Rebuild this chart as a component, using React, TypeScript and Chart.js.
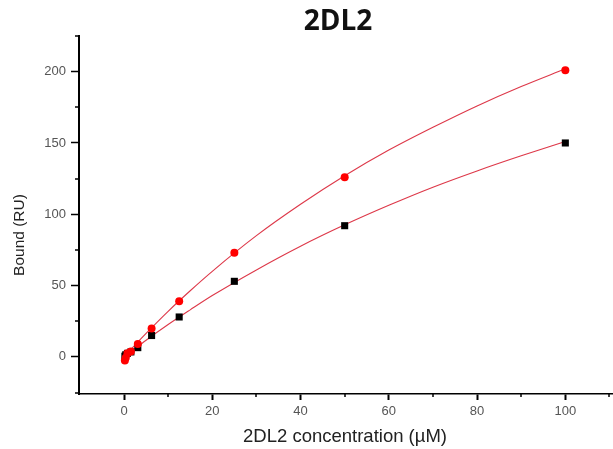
import React, { useEffect, useRef } from "react";
import { Chart, registerables } from "chart.js";

Chart.register(...registerables);

// Measured binding (RU) at each analyte concentration (µM)
const concentration = [0.195, 0.39, 0.78, 1.5625, 3.125, 6.25, 12.5, 25, 50, 100];
const boundRed = [-2.5, -0.5, 2.5, 3.8, 9, 20, 39, 73, 126, 201];
const boundBlack = [0.5, 1.5, 2.5, 3.5, 6.5, 15, 28, 53, 92, 150];

// Fitted saturation curves
const fitX = [0, 2, 5, 10, 15, 20, 30, 40, 50, 60, 70, 80, 90, 100];
const fitRed = [0, 6.7, 16.5, 32, 46.4, 60, 85, 107, 127, 145, 161, 176, 189.6, 202];
const fitBlack = [0, 4.7, 11.7, 22.7, 33, 43, 61, 77.6, 92.6, 106.3, 119, 130.4, 141, 151];

// Axis ticks
const xMajorTicks = [0, 20, 40, 60, 80, 100];
const xMinorTicks = [10, 30, 50, 70, 90, 110];
const yMajorTicks = [0, 50, 100, 150, 200];
const yMinorTicks = [-25, 25, 75, 125, 175, 225];

const chartTitle = "2DL2";
const xTitle = "2DL2 concentration (\u00B5M)";
const yTitle = "Bound (RU)";

const SANS = "'Liberation Sans', Arial, sans-serif";

const decorations = {
  id: "decorations",
  afterDraw(chart: any) {
    const { ctx, chartArea, scales } = chart;
    const xs = scales.x;
    const ys = scales.y;
    ctx.save();
    ctx.strokeStyle = "#000";
    ctx.lineWidth = 1.5;
    ctx.beginPath();
    for (const v of xMinorTicks) {
      if (v < xs.min || v > xs.max) continue;
      const px = Math.round(xs.getPixelForValue(v));
      ctx.moveTo(px, chartArea.bottom);
      ctx.lineTo(px, chartArea.bottom + 3);
    }
    for (const v of yMinorTicks) {
      if (v < ys.min || v > ys.max) continue;
      const py = Math.round(ys.getPixelForValue(v));
      ctx.moveTo(chartArea.left - 4, py);
      ctx.lineTo(chartArea.left, py);
    }
    ctx.stroke();

    ctx.fillStyle = "#111";
    ctx.textAlign = "center";
    ctx.textBaseline = "middle";
    ctx.font = "bold 28px 'Open Sans', sans-serif";
    ctx.fillText(chartTitle, 338, 22);

    ctx.fillStyle = "#222";
    ctx.font = `18.5px ${SANS}`;
    ctx.fillText(xTitle, 345, 437);

    ctx.translate(20, 235);
    ctx.rotate(-Math.PI / 2);
    ctx.font = `15.5px ${SANS}`;
    ctx.fillText(yTitle, 0, 0);
    ctx.restore();
  },
};

export default function App() {
  const ref = useRef<HTMLCanvasElement | null>(null);

  useEffect(() => {
    if (!ref.current) return;
    const toPts = (xs: number[], ys: number[]) => xs.map((x, i) => ({ x, y: ys[i] }));
    const chart = new Chart(ref.current, {
      type: "scatter",
      data: {
        datasets: [
          {
            type: "scatter",
            data: toPts(concentration, boundRed),
            pointStyle: "circle",
            pointRadius: 4,
            pointBorderWidth: 0,
            backgroundColor: "#ff0000",
            borderColor: "#ff0000",
            order: 1,
          },
          {
            type: "scatter",
            data: toPts(concentration, boundBlack),
            pointStyle: "rect",
            pointRadius: 5,
            pointBorderWidth: 0,
            backgroundColor: "#000000",
            borderColor: "#000000",
            order: 2,
          },
          {
            type: "line",
            data: toPts(fitX, fitRed),
            borderColor: "rgba(215,20,40,0.85)",
            borderWidth: 1.1,
            pointRadius: 0,
            fill: false,
            cubicInterpolationMode: "monotone",
            order: 3,
          },
          {
            type: "line",
            data: toPts(fitX, fitBlack),
            borderColor: "rgba(215,20,40,0.85)",
            borderWidth: 1.1,
            pointRadius: 0,
            fill: false,
            cubicInterpolationMode: "monotone",
            order: 4,
          },
        ],
      } as any,
      options: {
        animation: false,
        responsive: false,
        devicePixelRatio: 1,
        layout: { autoPadding: false, padding: { top: 36, right: 0, left: 0, bottom: 0 } },
        plugins: {
          legend: { display: false },
          tooltip: { enabled: false },
          title: { display: false },
        },
        scales: {
          x: {
            type: "linear",
            min: -10.2,
            max: 110.8,
            border: { display: true, color: "#000", width: 1.5 },
            grid: {
              display: true,
              drawOnChartArea: false,
              drawTicks: true,
              tickLength: 6,
              tickColor: "#000",
              tickWidth: 2,
            },
            ticks: {
              color: "#555",
              font: { size: 13, family: SANS },
              padding: 4,
            },
            afterBuildTicks: (s: any) => {
              s.ticks = xMajorTicks.map((v) => ({ value: v }));
            },
            afterFit: (s: any) => {
              s.height = 55;
            },
          },
          y: {
            type: "linear",
            min: -26,
            max: 225,
            border: { display: true, color: "#000", width: 2 },
            grid: {
              display: true,
              drawOnChartArea: false,
              drawTicks: true,
              tickLength: 8,
              tickColor: "#000",
              tickWidth: 1.5,
            },
            ticks: {
              color: "#555",
              font: { size: 13, family: SANS },
              padding: 5,
            },
            afterBuildTicks: (s: any) => {
              s.ticks = yMajorTicks.map((v) => ({ value: v }));
            },
            afterFit: (s: any) => {
              s.width = 79;
            },
          },
        },
      } as any,
      plugins: [decorations],
    });
    return () => chart.destroy();
  }, []);

  return (
    <div style={{ position: "fixed", left: 0, top: 0, width: 613, height: 449, background: "#fff" }}>
      <canvas ref={ref} width={613} height={449} />
    </div>
  );
}
